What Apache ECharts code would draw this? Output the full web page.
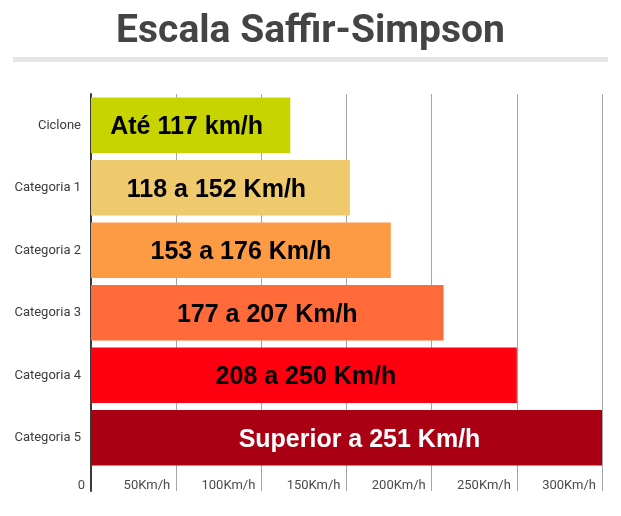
<!DOCTYPE html>
<html>
<head>
<meta charset="utf-8">
<script src="https://cdn.jsdelivr.net/npm/echarts@6/dist/echarts.min.js"></script>
<style>
html,body{margin:0;padding:0;background:#fff;}
#chart{width:621px;height:516px;}
</style>
</head>
<body>
<div id="chart"></div>
<script>
const titleText = 'Escala Saffir-Simpson';
const categories = ['Ciclone', 'Categoria 1', 'Categoria 2', 'Categoria 3', 'Categoria 4', 'Categoria 5'];
const values = [117, 152, 176, 207, 250, 300];
const barLabels = ['Até 117 km/h', '118 a 152 Km/h', '153 a 176 Km/h', '177 a 207 Km/h', '208 a 250 Km/h', 'Superior a 251 Km/h'];
const colors = ['#c8d400', '#efca6d', '#fd9a44', '#ff6a3a', '#ff0010', '#aa0013'];
const labelColors = ['#000', '#000', '#000', '#000', '#000', '#fff'];
const labelOffsets = [[-4, 2], [-4, 2], [0, 2], [0, 2], [2, 2], [13, 2]];
const xMin = 0, xMax = 300, xStep = 50;

const chart = echarts.init(document.getElementById('chart'), null, {renderer: 'canvas'});
const option = {
  backgroundColor: '#fff',
  animation: false,
  title: {
    text: titleText,
    left: 'center',
    top: 8,
    textStyle: {fontFamily: 'Roboto', fontWeight: 'bold', fontSize: 39, color: '#444'}
  },
  graphic: [{
    type: 'rect', left: 13, top: 57,
    shape: {width: 595, height: 5},
    style: {fill: '#e6e6e6'}
  }],
  grid: [
    {left: 91, right: 19, top: 94, height: 375},
    {left: 91, right: 19, top: 469, height: 22}
  ],
  xAxis: [
    {
      gridIndex: 0, type: 'value', min: xMin, max: xMax, interval: xStep,
      axisLine: {show: false}, axisTick: {show: false}, axisLabel: {show: false},
      splitLine: {show: true, lineStyle: {color: '#a6a6a6', width: 1}}
    },
    {
      gridIndex: 1, type: 'value', min: xMin, max: xMax, interval: xStep,
      axisLine: {show: false}, axisTick: {show: false},
      splitLine: {show: true, lineStyle: {color: '#a6a6a6', width: 1}},
      axisLabel: {
        inside: true, margin: 5, align: 'right', verticalAlign: 'middle',
        padding: [0, 6, 0, 0],
        fontFamily: 'Roboto', fontSize: 13, color: '#4a4a4a',
        formatter: v => v === 0 ? '0' : v + 'Km/h'
      }
    }
  ],
  yAxis: [
    {
      gridIndex: 0, type: 'category', data: categories, inverse: true,
      axisLine: {show: true, lineStyle: {color: '#3a3a3a', width: 2}},
      axisTick: {show: false},
      axisLabel: {margin: 10, fontFamily: 'Roboto', fontSize: 13, color: '#3c3c3c'}
    },
    {
      gridIndex: 1, type: 'category', data: [''],
      axisLine: {show: true, lineStyle: {color: '#3a3a3a', width: 2}},
      axisTick: {show: false}, axisLabel: {show: false}
    }
  ],
  series: [{
    type: 'bar', xAxisIndex: 0, yAxisIndex: 0,
    barCategoryGap: '11%',
    data: values.map((v, i) => ({
      value: v,
      itemStyle: {color: colors[i]},
      label: {
        show: true, position: 'inside',
        formatter: barLabels[i],
        color: labelColors[i],
        offset: labelOffsets[i],
        fontFamily: 'Liberation Sans, Arial', fontWeight: 'bold', fontSize: 25
      }
    }))
  }]
};
chart.setOption(option);
</script>
</body>
</html>
